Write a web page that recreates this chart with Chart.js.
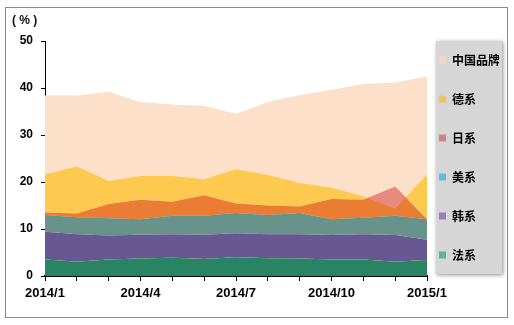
<!DOCTYPE html>
<html>
<head>
<meta charset="utf-8">
<script src="https://cdn.jsdelivr.net/npm/chart.js@4.4.0/dist/chart.umd.min.js"></script>
<style>
html, body { margin: 0; padding: 0; background: #fff; }
#wrap { position: relative; width: 514px; height: 325px; }
#frame { position: absolute; left: 5px; top: 7px; width: 501px; height: 309px; border: 1px solid #8a8a8a; pointer-events: none; }
</style>
</head>
<body>
<div id="wrap">
  <canvas id="shareChart" width="514" height="325"></canvas>
  <div id="frame"></div>
</div>
<script>
// months on the x axis, only some of them get a label
var months = ['2014/1', '2014/2', '2014/3', '2014/4', '2014/5', '2014/6', '2014/7',
              '2014/8', '2014/9', '2014/10', '2014/11', '2014/12', '2015/1'];
var shownMonths = ['2014/1', '2014/4', '2014/7', '2014/10', '2015/1'];

// plotted level of each area (%)
var faxi    = [3.5, 3.05, 3.5, 3.7, 3.9, 3.6, 4.0, 3.8, 3.7, 3.5, 3.5, 3.05, 3.4];
var hanxi   = [9.4, 8.9, 8.6, 8.8, 8.9, 8.8, 9.1, 8.9, 8.9, 8.7, 8.9, 8.7, 7.7];
var meixi   = [13.0, 12.5, 12.3, 12.1, 12.8, 12.8, 13.4, 13.0, 13.4, 12.1, 12.4, 12.8, 12.1];
var rixi    = [13.5, 13.3, 15.3, 16.2, 15.8, 17.2, 15.4, 15.0, 14.8, 16.4, 16.2, 19.0, 12.1];
var dexi    = [21.6, 23.3, 20.2, 21.3, 21.3, 20.6, 22.7, 21.5, 19.8, 18.8, 16.9, 14.3, 21.6];
var zhongguo = [38.4, 38.4, 39.2, 37.0, 36.5, 36.2, 34.5, 37.0, 38.5, 39.6, 40.9, 41.1, 42.5];

var legendPanel = { x: 436, y: 41, w: 66, h: 233 };

Chart.defaults.font.family = "'Liberation Sans', Arial, sans-serif";
Chart.defaults.color = '#000';

function area(label, data, legendColor, fill, order) {
    return {
        label: label,
        data: data,
        backgroundColor: legendColor,
        borderColor: legendColor,
        borderWidth: 0,
        pointRadius: 0,
        pointHoverRadius: 0,
        tension: 0,
        fill: fill,
        order: order
    };
}

// grey legend panel, the "( % )" unit and legend placement
var chartDecor = {
    id: 'chartDecor',
    afterLayout: function (chart) {
        var lg = chart.legend;
        var p = lg.options.labels.padding;
        var w = lg.width, h = lg.height;
        lg.left = legendPanel.x + 3 - p;
        lg.right = lg.left + w;
        lg.top = legendPanel.y + 13 - p;
        lg.bottom = lg.top + h;
    },
    beforeDraw: function (chart) {
        var c = chart.ctx;
        c.save();
        c.shadowColor = 'rgba(0,0,0,0.45)';
        c.shadowBlur = 4;
        c.shadowOffsetX = 1;
        c.shadowOffsetY = 1;
        c.fillStyle = '#d6d6d6';
        c.fillRect(legendPanel.x, legendPanel.y, legendPanel.w, legendPanel.h);
        c.restore();
        c.save();
        c.font = "bold 12px 'Liberation Sans', Arial, sans-serif";
        c.fillStyle = '#111';
        c.textBaseline = 'middle';
        c.fillText('( % )', 12, 21);
        c.restore();
    }
};

var ctx = document.getElementById('shareChart').getContext('2d');
var myChart = new Chart(ctx, {
    type: 'line',
    data: {
        labels: months,
        datasets: [
            area('法系', faxi, '#56bb84', { target: 'origin', above: '#288462' }, 1),
            area('韩系', hanxi, '#9b7abd', { target: 0, above: '#675894' }, 2),
            area('美系', meixi, '#5bbde7', { target: 1, above: '#67938b' }, 3),
            area('日系', rixi, '#d08282', { target: 2, above: '#eb7c34', below: '#eb7c34' }, 5),
            area('德系', dexi, '#eec55b', { target: 3, above: '#fec94f', below: '#e88a7b' }, 4),
            area('中国品牌', zhongguo, '#f2d6c2', { target: 'origin', above: '#fde0c9' }, 6)
        ]
    },
    options: {
        responsive: false,
        animation: false,
        layout: { padding: { top: 41, right: 0, bottom: 0, left: 0 } },
        plugins: {
            legend: {
                position: 'right',
                align: 'start',
                maxWidth: 87,
                labels: {
                    boxWidth: 7,
                    boxHeight: 7,
                    padding: 27,
                    color: '#000',
                    font: { family: "'Noto Sans CJK SC', sans-serif", size: 12, weight: 'bold' },
                    sort: function (a, b) { return b.datasetIndex - a.datasetIndex; }
                }
            },
            tooltip: { enabled: false }
        },
        scales: {
            x: {
                offset: false,
                ticks: {
                    autoSkip: false,
                    maxRotation: 0,
                    padding: 5,
                    font: { size: 13, weight: 'bold' },
                    callback: function (v, i) {
                        var m = months[i];
                        return shownMonths.indexOf(m) >= 0 ? m : '';
                    }
                },
                grid: { drawOnChartArea: false, tickLength: 5, color: '#000', offset: false },
                border: { color: '#000', width: 2 },
                afterFit: function (s) { s.height = 49; }
            },
            y: {
                min: 0,
                max: 50,
                ticks: { stepSize: 10, padding: 8, font: { size: 12, weight: 'bold' } },
                grid: { drawOnChartArea: false, tickLength: 4, color: '#000' },
                border: { color: '#000', width: 1 },
                afterFit: function (s) { s.width = 45; }
            }
        }
    },
    plugins: [chartDecor]
});
</script>
</body>
</html>
